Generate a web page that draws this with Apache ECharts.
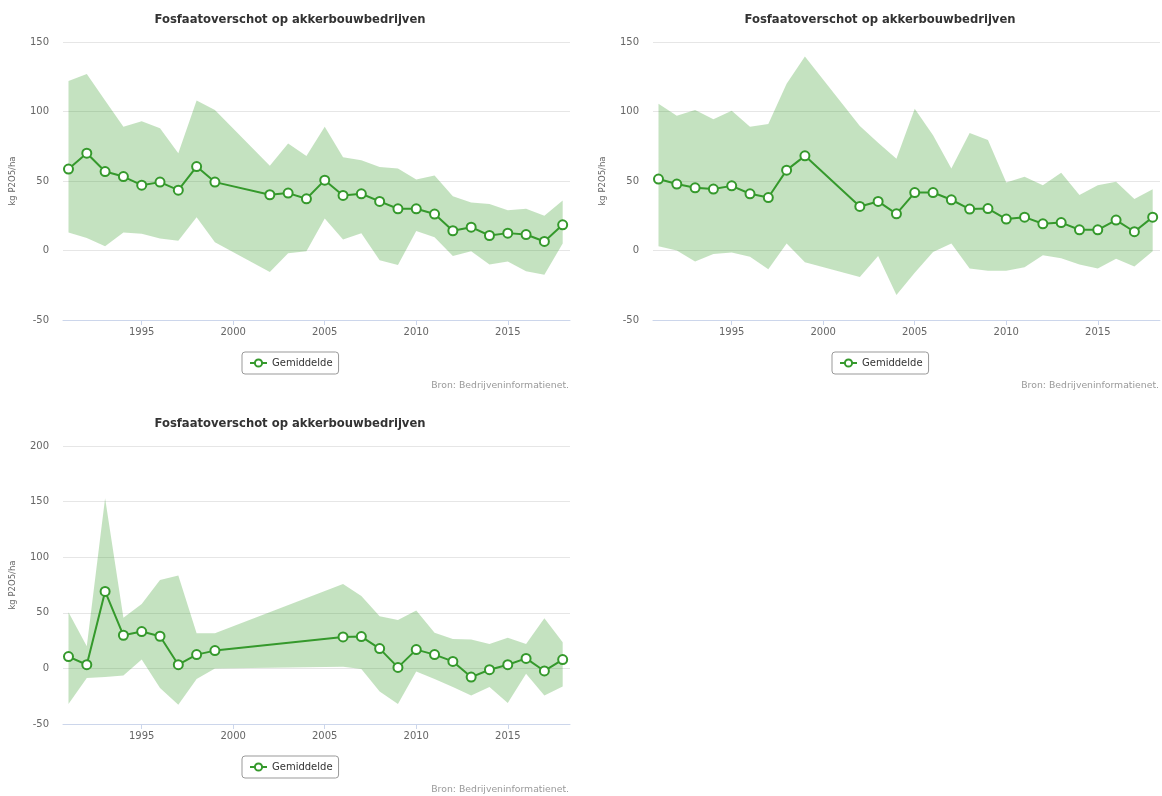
<!DOCTYPE html>
<html>
<head>
<meta charset="utf-8">
<script src="https://cdn.jsdelivr.net/npm/echarts/dist/echarts.min.js"></script>
<style>
  body { margin: 0; background: #fff; }
  .chart { position: absolute; width: 580px; height: 400px; }
  #c1 { left: 0; top: 0; }
  #c2 { left: 590px; top: 0; }
  #c3 { left: 0; top: 404px; }
</style>
</head>
<body>
<div id="c1" class="chart"></div>
<div id="c2" class="chart"></div>
<div id="c3" class="chart"></div>
<script>
// data
const years1 = [1991,1992,1993,1994,1995,1996,1997,1998,1999,2002,2003,2004,2005,2006,2007,2008,2009,2010,2011,2012,2013,2014,2015,2016,2017,2018];
const mean1 = [58.6,70,56.8,53.2,47,49.2,43.4,60.4,49.2,40.1,41.3,37.2,50.6,39.6,40.8,35.3,30,30,26.2,14.2,16.8,10.8,12.5,11.5,6.5,18.5];
const high1 = [122,127,108,89,93,88,70,108,101,61,77,68,89,67,65,60,59,51,54,39,34.5,33.5,29,30,25,36];
const low1 = [13,9,3,13,12,8.6,7,24,6,-15.5,-2,-0.5,23,8,12.5,-7,-10.5,14,9.5,-4,-0.5,-10,-8,-15,-17.5,5];

const years2 = years1;
const mean2 = [51.4,47.8,45.1,44.2,46.5,40.8,38.1,57.8,68.1,31.7,35.3,26.4,41.7,41.7,36.5,29.8,30.2,22.6,24,19.2,20.1,14.9,14.9,21.9,13.5,24];
const high2 = [105.5,97,101,94.5,100.5,89,91,120,139.5,89.5,77.5,66,102,83,59,84.5,79.5,49,53,47,56,40,47,49.5,37,44];
const low2 = [3,0,-8,-2.5,-1.5,-4.5,-13.5,5,-8.5,-19,-4,-32,-16,-1,5,-13,-14.5,-14.5,-12,-3.5,-5.5,-10,-13,-6,-11.5,-0.5];

const years3 = [1991,1992,1993,1994,1995,1996,1997,1998,1999,2006,2007,2008,2009,2010,2011,2012,2013,2014,2015,2016,2017,2018];
const mean3 = [10.6,3.3,69.2,29.8,33.1,28.9,3.3,12.4,16,28.3,28.6,17.8,0.9,16.9,12.4,6.3,-7.8,-1.2,3.3,9,-2.3,7.9];
const high3 = [50.5,20,153,45.5,58,79.5,83.5,31.5,31.5,76,65,47,43.5,52,32,26.5,26,22,27.5,22,45,23.5];
const low3 = [-32,-8.7,-7.8,-6.3,8,-17.7,-32.8,-9.6,0,1.5,-0.5,-20.7,-32,-2.7,-9.6,-16.8,-24.4,-16.8,-31.2,-4.8,-24.4,-16.2];

const xTicks = [1995, 2000, 2005, 2010, 2015];
const titleText = 'Fosfaatoverschot op akkerbouwbedrijven';
const yName = 'kg P2O5/ha';
const legendName = 'Gemiddelde';
const credits = 'Bron: Bedrijveninformatienet.';

const FONT = '"DejaVu Sans", Verdana, sans-serif';
const GREEN = '#35992c';

function drawChart(id, years, mean, low, high, yMax) {
  let myChart = echarts.init(document.getElementById(id));
  let bandData = years.map((y, i) => [y, low[i], high[i]]);
  let meanPts = years.map((y, i) => [y, mean[i]]);

  let option = {
    animation: false,
    title: {
      text: titleText,
      left: 'center',
      top: 9,
      textStyle: { fontFamily: FONT, fontSize: 11.6, fontWeight: 'bold', color: '#333' }
    },
    grid: { left: 62, right: 10, top: 42, bottom: 80 },
    legend: {
      data: [legendName],
      left: 242,
      top: 352,
      borderColor: '#999',
      borderWidth: 1,
      borderRadius: 3,
      padding: [6, 6, 6, 7],
      itemWidth: 17,
      itemHeight: 9,
      itemGap: 4,
      textStyle: { fontFamily: FONT, fontSize: 10, color: '#333' }
    },
    graphic: [{
      type: 'text',
      right: 11,
      top: 381,
      style: { text: credits, fontFamily: FONT, fontSize: 9.3, fill: '#999' }
    }],
    xAxis: {
      type: 'value',
      min: 1990.7,
      max: 2018.4,
      axisLine: { onZero: false, lineStyle: { color: '#ccd6eb' } },
      axisTick: { show: true, length: 5, customValues: xTicks, lineStyle: { color: '#ccd6eb' } },
      axisLabel: { customValues: xTicks, formatter: v => String(v), color: '#666', fontFamily: FONT, fontSize: 10, margin: 7 },
      splitLine: { show: false }
    },
    yAxis: {
      type: 'value',
      min: -50,
      max: yMax,
      interval: 50,
      name: yName,
      nameLocation: 'middle',
      nameGap: 46,
      nameTextStyle: { fontFamily: FONT, fontSize: 8.5, color: '#666' },
      axisLine: { show: false },
      axisTick: { show: false },
      axisLabel: { color: '#666', fontFamily: FONT, fontSize: 10, margin: 14 },
      splitLine: { lineStyle: { color: '#e6e6e6' } }
    },
    series: [
      {
        name: 'band',
        type: 'custom',
        data: bandData,
        silent: true,
        z: 1,
        renderItem: function (params, api) {
          // whole range drawn once as one polygon
          if (params.dataIndex !== 0) return null;
          let top = bandData.map(d => api.coord([d[0], d[2]]));
          let bottom = bandData.map(d => api.coord([d[0], d[1]])).reverse();
          return {
            type: 'polygon',
            shape: { points: top.concat(bottom) },
            style: { fill: 'rgba(58,158,48,0.3)' }
          };
        }
      },
      {
        name: legendName,
        type: 'line',
        data: meanPts,
        z: 5,
        symbol: 'circle',
        symbolSize: 9,
        itemStyle: { color: '#fff', borderColor: GREEN, borderWidth: 2 },
        lineStyle: { color: GREEN, width: 2 }
      }
    ]
  };
  myChart.setOption(option, true);
}

drawChart('c1', years1, mean1, low1, high1, 150);
drawChart('c2', years2, mean2, low2, high2, 150);
drawChart('c3', years3, mean3, low3, high3, 200);
</script>
</body>
</html>
